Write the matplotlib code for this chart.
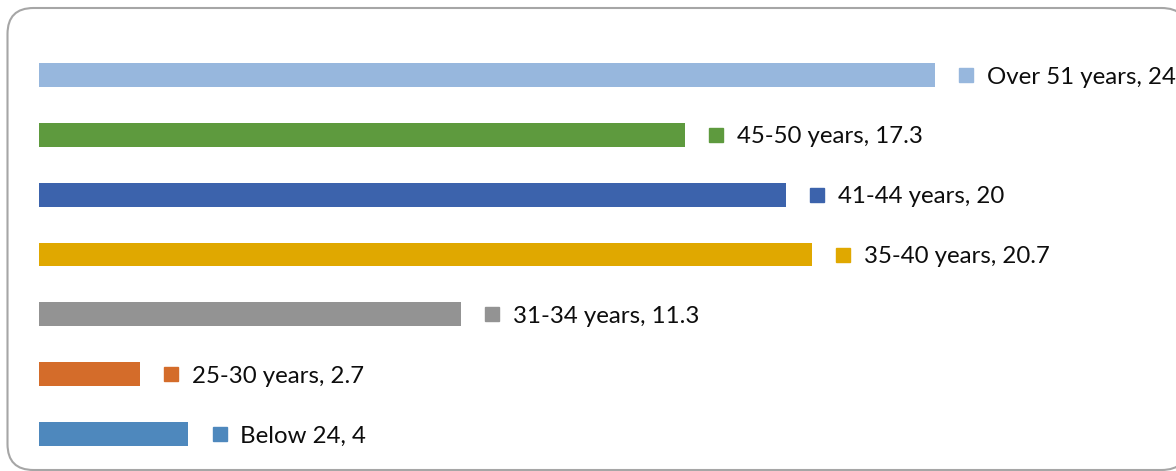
import matplotlib.pyplot as plt
import matplotlib.transforms as mtransforms
from matplotlib.patches import FancyBboxPatch

# age groups, bottom to top
groups = ["Below 24", "25-30 years", "31-34 years", "35-40 years",
          "41-44 years", "45-50 years", "Over 51 years"]
values = [4, 2.7, 11.3, 20.7, 20, 17.3, 24]
colors = ["#4E88BD", "#D46C2A", "#939393", "#E0A800",
          "#3C63AC", "#5E9A3E", "#97B7DD"]

W, H = 1176, 471
fig = plt.figure(figsize=(W / 100, H / 100), dpi=100)

# rounded frame drawn in pixel space
bg = fig.add_axes([0, 0, 1, 1])
bg.set_xlim(0, W)
bg.set_ylim(H, 0)
bg.axis("off")
frame = FancyBboxPatch((7.5, 8), 1180, 462,
                       boxstyle="round,pad=0,rounding_size=26",
                       fc="white", ec="#A6A6A6", lw=1.5)
bg.add_patch(frame)

px_per_unit = 37.33
x0 = 39
ax = fig.add_axes([x0 / W, 0, 1 - x0 / W, 1])
ax.set_xlim(0, (W - x0) / px_per_unit)
step = 59.83
ax.set_ylim(-(H - 434) / step, 6 + 75 / step)
ax.axis("off")

ypos = list(range(len(groups)))
ax.barh(ypos, values, height=0.4, color=colors)

# legend-key squares sit a fixed distance right of each bar end
key_shift = ax.transData + mtransforms.ScaledTranslation(
    22.7 / 72, 0, fig.dpi_scale_trans)

for y, v, g, c in zip(ypos, values, groups, colors):
    ax.plot(v, y, marker="s", ms=10, color=c, ls="none",
            transform=key_shift, clip_on=False)
    ax.annotate(f"{g}, {v:g}", (v, y), xytext=(37.5, 0),
                textcoords="offset points", va="center_baseline",
                ha="left", fontsize=17.3, family="Lato", color="#0D0D0D",
                annotation_clip=False)

fig.savefig("out.png", dpi=100)
